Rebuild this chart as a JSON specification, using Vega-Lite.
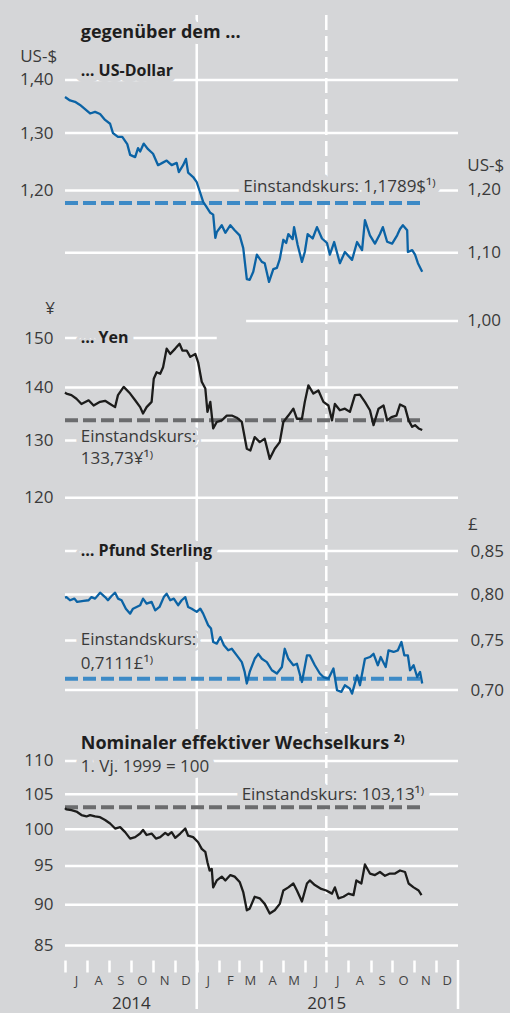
{
"$schema": "https://vega.github.io/schema/vega-lite/v6.json",
"background": "#d5d6d8",
"padding": {"left": 19, "top": 13, "right": 5, "bottom": 3},
"spacing": 0,
"bounds": "flush",
"config": {
  "locale": {"number": {"decimal": ",", "thousands": ".", "grouping": [3], "currency": ["", " €"]}},
  "view": {"stroke": null},
  "axis": {"domain": false, "ticks": false, "grid": false, "labelFont": "Open Sans", "labelFontSize": 17, "labelColor": "#3a3a3a", "labelPadding": 12},
  "text": {"font": "Open Sans"}
},
"datasets": {
  "vlines": [{"d": "2015-01-01", "k": "solid"}, {"d": "2015-07-01", "k": "dash"}],
  "yticks": [{"d": "2015-01-01"}, {"d": "2016-01-01"}],
  "grid": [
    {"p": "usd", "v": 1.4, "d": "2014-07-01", "e": "2016-01-01"},
    {"p": "usd", "v": 1.3, "d": "2014-07-01", "e": "2016-01-01"},
    {"p": "usd", "v": 1.2, "d": "2014-07-01", "e": "2016-01-01"},
    {"p": "usd", "v": 1.1, "d": "2014-07-01", "e": "2016-01-01"},
    {"p": "usd", "v": 1.0, "d": "2015-03-11", "e": "2016-01-01"},
    {"p": "yen", "v": 150, "d": "2014-07-01", "e": "2015-01-29"},
    {"p": "yen", "v": 140, "d": "2014-07-01", "e": "2016-01-01"},
    {"p": "yen", "v": 130, "d": "2014-07-01", "e": "2016-01-01"},
    {"p": "yen", "v": 120, "d": "2014-07-01", "e": "2016-01-01"},
    {"p": "gbp", "v": 0.85, "d": "2014-07-01", "e": "2016-01-01"},
    {"p": "gbp", "v": 0.80, "d": "2014-07-01", "e": "2016-01-01"},
    {"p": "gbp", "v": 0.75, "d": "2014-07-01", "e": "2016-01-01"},
    {"p": "gbp", "v": 0.70, "d": "2014-07-01", "e": "2016-01-01"},
    {"p": "eff", "v": 110, "d": "2014-07-01", "e": "2016-01-01"},
    {"p": "eff", "v": 105, "d": "2014-07-01", "e": "2016-01-01"},
    {"p": "eff", "v": 100, "d": "2014-07-01", "e": "2016-01-01"},
    {"p": "eff", "v": 95, "d": "2014-07-01", "e": "2016-01-01"},
    {"p": "eff", "v": 90, "d": "2014-07-01", "e": "2016-01-01"},
    {"p": "eff", "v": 85, "d": "2014-07-01", "e": "2016-01-01"}
  ],
  "einst": [
    {"p": "usd", "v": 1.1789, "d": "2014-07-01", "e": "2015-11-13"},
    {"p": "yen", "v": 133.73, "d": "2014-07-01", "e": "2015-11-13"},
    {"p": "gbp", "v": 0.7111, "d": "2014-07-01", "e": "2015-11-13"},
    {"p": "eff", "v": 103.13, "d": "2014-07-01", "e": "2015-11-13"}
  ],
  "labels": [
    {"p": "usd", "s": "title", "d": "2014-07-23", "v": 1.495, "t": "gegenüber dem …"},
    {"p": "usd", "s": "bold", "d": "2014-07-23", "v": 1.4177, "t": "… US-Dollar"},
    {"p": "usd", "s": "regR", "d": "2014-06-20", "v": 1.4457, "t": "US-$"},
    {"p": "usd", "s": "regR", "d": "2015-12-01", "v": 1.2057, "t": "Einstandskurs: 1,1789$¹⁾"},
    {"p": "usd", "s": "reg", "d": "2016-01-14", "v": 1.2416, "t": "US-$"},
    {"p": "usd", "s": "reg", "d": "2016-01-14", "v": 1.2, "t": "1,20"},
    {"p": "usd", "s": "reg", "d": "2016-01-14", "v": 1.1, "t": "1,10"},
    {"p": "usd", "s": "reg", "d": "2016-01-14", "v": 1.0, "t": "1,00"},
    {"p": "yen", "s": "regR", "d": "2014-06-17", "v": 156.2, "t": "¥"},
    {"p": "yen", "s": "bold", "d": "2014-07-23", "v": 150, "t": "… Yen"},
    {"p": "yen", "s": "reg", "d": "2014-07-23", "v": 130.6, "t": "Einstandskurs:"},
    {"p": "yen", "s": "reg", "d": "2014-07-23", "v": 126.7, "t": "133,73¥¹⁾"},
    {"p": "gbp", "s": "reg", "d": "2016-01-15", "v": 0.8814, "t": "£"},
    {"p": "gbp", "s": "bold", "d": "2014-07-23", "v": 0.85, "t": "… Pfund Sterling"},
    {"p": "gbp", "s": "reg", "d": "2014-07-23", "v": 0.7507, "t": "Einstandskurs:"},
    {"p": "gbp", "s": "reg", "d": "2014-07-23", "v": 0.726, "t": "0,7111£¹⁾"},
    {"p": "eff", "s": "title", "d": "2014-07-23", "v": 112.64, "t": "Nominaler effektiver Wechselkurs ²⁾"},
    {"p": "eff", "s": "reg", "d": "2014-07-23", "v": 109.08, "t": "1. Vj. 1999 = 100"},
    {"p": "eff", "s": "regR", "d": "2015-11-15", "v": 104.95, "t": "Einstandskurs: 103,13¹⁾"}
  ],
  "usd": [
    {"d":"2014-07-01","v":1.367},{"d":"2014-07-08","v":1.3605},{"d":"2014-07-15","v":1.358},{"d":"2014-07-22","v":1.352},{"d":"2014-07-29","v":1.344},{"d":"2014-08-05","v":1.336},{"d":"2014-08-12","v":1.339},{"d":"2014-08-19","v":1.335},{"d":"2014-08-26","v":1.324},{"d":"2014-09-02","v":1.317},{"d":"2014-09-06","v":1.300},{"d":"2014-09-13","v":1.293},{"d":"2014-09-19","v":1.293},{"d":"2014-09-26","v":1.280},{"d":"2014-09-30","v":1.261},{"d":"2014-10-07","v":1.257},{"d":"2014-10-11","v":1.273},{"d":"2014-10-14","v":1.267},{"d":"2014-10-19","v":1.281},{"d":"2014-10-25","v":1.271},{"d":"2014-11-01","v":1.263},{"d":"2014-11-08","v":1.243},{"d":"2014-11-14","v":1.247},{"d":"2014-11-20","v":1.251},{"d":"2014-11-27","v":1.243},{"d":"2014-12-04","v":1.247},{"d":"2014-12-07","v":1.231},{"d":"2014-12-13","v":1.243},{"d":"2014-12-17","v":1.254},{"d":"2014-12-20","v":1.230},{"d":"2014-12-27","v":1.2226},{"d":"2015-01-01","v":1.214},{"d":"2015-01-06","v":1.1956},{"d":"2015-01-10","v":1.181},{"d":"2015-01-14","v":1.174},{"d":"2015-01-20","v":1.163},{"d":"2015-01-24","v":1.160},{"d":"2015-01-27","v":1.123},{"d":"2015-01-29","v":1.132},{"d":"2015-02-05","v":1.143},{"d":"2015-02-10","v":1.131},{"d":"2015-02-17","v":1.143},{"d":"2015-02-23","v":1.135},{"d":"2015-03-02","v":1.127},{"d":"2015-03-07","v":1.107},{"d":"2015-03-12","v":1.060},{"d":"2015-03-16","v":1.059},{"d":"2015-03-21","v":1.071},{"d":"2015-03-26","v":1.097},{"d":"2015-04-02","v":1.086},{"d":"2015-04-06","v":1.084},{"d":"2015-04-12","v":1.056},{"d":"2015-04-18","v":1.075},{"d":"2015-04-23","v":1.077},{"d":"2015-04-27","v":1.090},{"d":"2015-05-02","v":1.120},{"d":"2015-05-06","v":1.115},{"d":"2015-05-09","v":1.129},{"d":"2015-05-15","v":1.121},{"d":"2015-05-17","v":1.140},{"d":"2015-05-22","v":1.112},{"d":"2015-05-28","v":1.086},{"d":"2015-06-01","v":1.101},{"d":"2015-06-05","v":1.129},{"d":"2015-06-12","v":1.122},{"d":"2015-06-18","v":1.140},{"d":"2015-06-25","v":1.122},{"d":"2015-07-02","v":1.115},{"d":"2015-07-06","v":1.097},{"d":"2015-07-12","v":1.1165},{"d":"2015-07-20","v":1.084},{"d":"2015-07-27","v":1.101},{"d":"2015-08-06","v":1.089},{"d":"2015-08-13","v":1.1165},{"d":"2015-08-20","v":1.104},{"d":"2015-08-24","v":1.151},{"d":"2015-08-31","v":1.127},{"d":"2015-09-07","v":1.114},{"d":"2015-09-14","v":1.129},{"d":"2015-09-18","v":1.140},{"d":"2015-09-24","v":1.117},{"d":"2015-10-01","v":1.114},{"d":"2015-10-08","v":1.127},{"d":"2015-10-12","v":1.137},{"d":"2015-10-16","v":1.143},{"d":"2015-10-22","v":1.135},{"d":"2015-10-23","v":1.101},{"d":"2015-10-29","v":1.104},{"d":"2015-11-02","v":1.097},{"d":"2015-11-06","v":1.084},{"d":"2015-11-12","v":1.071}
  ],
  "yen": [
    {"d":"2014-07-01","v":139.0},{"d":"2014-07-03","v":138.8},{"d":"2014-07-10","v":138.5},{"d":"2014-07-17","v":137.8},{"d":"2014-07-24","v":136.8},{"d":"2014-08-03","v":137.5},{"d":"2014-08-10","v":136.5},{"d":"2014-08-19","v":137.2},{"d":"2014-08-26","v":137.4},{"d":"2014-09-02","v":136.8},{"d":"2014-09-09","v":136.2},{"d":"2014-09-13","v":138.5},{"d":"2014-09-21","v":140.1},{"d":"2014-09-30","v":138.8},{"d":"2014-10-07","v":137.5},{"d":"2014-10-14","v":136.2},{"d":"2014-10-18","v":135.0},{"d":"2014-10-23","v":136.2},{"d":"2014-10-30","v":137.2},{"d":"2014-11-02","v":141.7},{"d":"2014-11-06","v":143.0},{"d":"2014-11-11","v":142.7},{"d":"2014-11-15","v":144.0},{"d":"2014-11-20","v":147.8},{"d":"2014-11-25","v":146.7},{"d":"2014-12-02","v":147.8},{"d":"2014-12-08","v":148.8},{"d":"2014-12-12","v":147.4},{"d":"2014-12-18","v":147.4},{"d":"2014-12-23","v":146.1},{"d":"2014-12-30","v":146.7},{"d":"2015-01-03","v":145.0},{"d":"2015-01-08","v":141.1},{"d":"2015-01-13","v":139.8},{"d":"2015-01-16","v":135.3},{"d":"2015-01-20","v":137.2},{"d":"2015-01-24","v":132.2},{"d":"2015-01-29","v":133.4},{"d":"2015-02-05","v":133.7},{"d":"2015-02-12","v":134.6},{"d":"2015-02-19","v":134.6},{"d":"2015-02-26","v":134.2},{"d":"2015-03-05","v":133.4},{"d":"2015-03-12","v":128.5},{"d":"2015-03-17","v":128.2},{"d":"2015-03-23","v":130.6},{"d":"2015-03-30","v":129.7},{"d":"2015-04-06","v":130.3},{"d":"2015-04-13","v":126.7},{"d":"2015-04-20","v":128.5},{"d":"2015-04-27","v":129.7},{"d":"2015-05-02","v":133.4},{"d":"2015-05-09","v":134.6},{"d":"2015-05-16","v":135.9},{"d":"2015-05-21","v":134.0},{"d":"2015-05-28","v":134.0},{"d":"2015-06-01","v":137.2},{"d":"2015-06-06","v":140.4},{"d":"2015-06-13","v":138.8},{"d":"2015-06-20","v":139.4},{"d":"2015-06-27","v":137.2},{"d":"2015-07-04","v":136.5},{"d":"2015-07-09","v":133.7},{"d":"2015-07-13","v":136.8},{"d":"2015-07-20","v":135.6},{"d":"2015-07-27","v":135.9},{"d":"2015-08-03","v":135.3},{"d":"2015-08-10","v":138.5},{"d":"2015-08-17","v":138.6},{"d":"2015-08-24","v":137.2},{"d":"2015-08-31","v":135.6},{"d":"2015-09-05","v":132.8},{"d":"2015-09-12","v":135.9},{"d":"2015-09-19","v":136.5},{"d":"2015-09-24","v":133.7},{"d":"2015-09-30","v":134.3},{"d":"2015-10-07","v":134.6},{"d":"2015-10-12","v":136.7},{"d":"2015-10-19","v":136.2},{"d":"2015-10-24","v":133.7},{"d":"2015-10-29","v":132.5},{"d":"2015-11-02","v":132.8},{"d":"2015-11-07","v":132.2},{"d":"2015-11-12","v":131.9}
  ],
  "gbp": [
    {"d":"2014-07-01","v":0.7965},{"d":"2014-07-03","v":0.7970},{"d":"2014-07-08","v":0.7935},{"d":"2014-07-14","v":0.7953},{"d":"2014-07-18","v":0.7916},{"d":"2014-07-27","v":0.7927},{"d":"2014-08-03","v":0.7935},{"d":"2014-08-07","v":0.7970},{"d":"2014-08-12","v":0.7953},{"d":"2014-08-19","v":0.8019},{"d":"2014-08-26","v":0.7970},{"d":"2014-08-30","v":0.7935},{"d":"2014-09-04","v":0.7982},{"d":"2014-09-09","v":0.8019},{"d":"2014-09-13","v":0.7953},{"d":"2014-09-18","v":0.7935},{"d":"2014-09-24","v":0.7842},{"d":"2014-09-30","v":0.7788},{"d":"2014-10-04","v":0.7842},{"d":"2014-10-09","v":0.7861},{"d":"2014-10-14","v":0.7880},{"d":"2014-10-18","v":0.7953},{"d":"2014-10-23","v":0.7897},{"d":"2014-10-30","v":0.7916},{"d":"2014-11-04","v":0.7824},{"d":"2014-11-10","v":0.7861},{"d":"2014-11-16","v":0.7970},{"d":"2014-11-20","v":0.8008},{"d":"2014-11-25","v":0.7935},{"d":"2014-11-30","v":0.7953},{"d":"2014-12-06","v":0.7880},{"d":"2014-12-11","v":0.7935},{"d":"2014-12-16","v":0.7970},{"d":"2014-12-20","v":0.7861},{"d":"2014-12-25","v":0.7842},{"d":"2015-01-01","v":0.7807},{"d":"2015-01-06","v":0.7842},{"d":"2015-01-10","v":0.7788},{"d":"2015-01-17","v":0.7663},{"d":"2015-01-21","v":0.7627},{"d":"2015-01-24","v":0.7485},{"d":"2015-01-29","v":0.7468},{"d":"2015-02-03","v":0.7537},{"d":"2015-02-08","v":0.7451},{"d":"2015-02-14","v":0.7399},{"d":"2015-02-19","v":0.7415},{"d":"2015-02-26","v":0.7347},{"d":"2015-03-05","v":0.7278},{"d":"2015-03-09","v":0.7179},{"d":"2015-03-12","v":0.7064},{"d":"2015-03-16","v":0.7179},{"d":"2015-03-23","v":0.7312},{"d":"2015-03-28","v":0.7363},{"d":"2015-04-02","v":0.7312},{"d":"2015-04-09","v":0.7278},{"d":"2015-04-16","v":0.7196},{"d":"2015-04-23","v":0.7163},{"d":"2015-04-30","v":0.7229},{"d":"2015-05-04","v":0.7415},{"d":"2015-05-09","v":0.7312},{"d":"2015-05-16","v":0.7246},{"d":"2015-05-21","v":0.7262},{"d":"2015-05-28","v":0.7079},{"d":"2015-06-04","v":0.7347},{"d":"2015-06-08","v":0.7347},{"d":"2015-06-15","v":0.7246},{"d":"2015-06-22","v":0.7163},{"d":"2015-06-27","v":0.7128},{"d":"2015-07-04","v":0.7112},{"d":"2015-07-11","v":0.7213},{"d":"2015-07-16","v":0.6998},{"d":"2015-07-22","v":0.6982},{"d":"2015-07-27","v":0.7047},{"d":"2015-08-03","v":0.7013},{"d":"2015-08-06","v":0.6965},{"d":"2015-08-13","v":0.7145},{"d":"2015-08-17","v":0.7047},{"d":"2015-08-24","v":0.7312},{"d":"2015-08-31","v":0.7330},{"d":"2015-09-05","v":0.7363},{"d":"2015-09-11","v":0.7246},{"d":"2015-09-15","v":0.7330},{"d":"2015-09-22","v":0.7229},{"d":"2015-09-26","v":0.7399},{"d":"2015-10-03","v":0.7382},{"d":"2015-10-09","v":0.7399},{"d":"2015-10-14","v":0.7485},{"d":"2015-10-18","v":0.7347},{"d":"2015-10-23","v":0.7347},{"d":"2015-10-26","v":0.7196},{"d":"2015-10-31","v":0.7246},{"d":"2015-11-05","v":0.7128},{"d":"2015-11-09","v":0.7179},{"d":"2015-11-12","v":0.7064}
  ],
  "eff": [
    {"d":"2014-07-01","v":103.0},{"d":"2014-07-03","v":102.8},{"d":"2014-07-10","v":102.7},{"d":"2014-07-17","v":102.5},{"d":"2014-07-24","v":102.0},{"d":"2014-07-31","v":101.8},{"d":"2014-08-05","v":102.0},{"d":"2014-08-12","v":101.8},{"d":"2014-08-19","v":101.7},{"d":"2014-08-26","v":101.3},{"d":"2014-09-02","v":100.8},{"d":"2014-09-09","v":100.1},{"d":"2014-09-16","v":100.3},{"d":"2014-09-23","v":99.6},{"d":"2014-09-30","v":98.7},{"d":"2014-10-07","v":98.9},{"d":"2014-10-14","v":99.4},{"d":"2014-10-18","v":99.9},{"d":"2014-10-23","v":99.2},{"d":"2014-10-30","v":99.4},{"d":"2014-11-05","v":98.7},{"d":"2014-11-11","v":98.9},{"d":"2014-11-18","v":99.5},{"d":"2014-11-22","v":99.2},{"d":"2014-11-27","v":99.6},{"d":"2014-12-02","v":98.8},{"d":"2014-12-09","v":99.4},{"d":"2014-12-16","v":100.1},{"d":"2014-12-20","v":99.1},{"d":"2014-12-27","v":98.9},{"d":"2015-01-03","v":98.2},{"d":"2015-01-08","v":97.3},{"d":"2015-01-13","v":96.9},{"d":"2015-01-16","v":95.5},{"d":"2015-01-19","v":94.4},{"d":"2015-01-22","v":94.6},{"d":"2015-01-24","v":92.2},{"d":"2015-01-29","v":93.1},{"d":"2015-02-05","v":93.6},{"d":"2015-02-10","v":93.1},{"d":"2015-02-17","v":93.8},{"d":"2015-02-23","v":93.6},{"d":"2015-03-02","v":92.9},{"d":"2015-03-07","v":91.6},{"d":"2015-03-12","v":89.3},{"d":"2015-03-16","v":89.5},{"d":"2015-03-23","v":91.0},{"d":"2015-03-30","v":90.8},{"d":"2015-04-06","v":90.1},{"d":"2015-04-13","v":88.9},{"d":"2015-04-20","v":89.3},{"d":"2015-04-27","v":90.1},{"d":"2015-05-02","v":91.8},{"d":"2015-05-09","v":92.2},{"d":"2015-05-16","v":92.7},{"d":"2015-05-21","v":91.8},{"d":"2015-05-28","v":90.4},{"d":"2015-06-04","v":92.7},{"d":"2015-06-08","v":93.1},{"d":"2015-06-15","v":92.5},{"d":"2015-06-24","v":92.0},{"d":"2015-07-01","v":91.8},{"d":"2015-07-09","v":91.4},{"d":"2015-07-13","v":92.2},{"d":"2015-07-18","v":90.8},{"d":"2015-07-25","v":91.0},{"d":"2015-08-01","v":91.4},{"d":"2015-08-08","v":91.2},{"d":"2015-08-12","v":93.1},{"d":"2015-08-19","v":92.7},{"d":"2015-08-24","v":95.2},{"d":"2015-08-31","v":94.0},{"d":"2015-09-07","v":93.8},{"d":"2015-09-14","v":94.2},{"d":"2015-09-21","v":93.7},{"d":"2015-09-28","v":94.0},{"d":"2015-10-05","v":94.0},{"d":"2015-10-12","v":94.4},{"d":"2015-10-19","v":94.2},{"d":"2015-10-24","v":92.7},{"d":"2015-10-31","v":92.2},{"d":"2015-11-07","v":91.8},{"d":"2015-11-11","v":91.2}
  ]
},
"vconcat": [
{
  "width": 393, "height": 315,
  "encoding": {
    "x": {"field": "d", "type": "temporal", "scale": {"type": "utc", "domain": [1404172800000, 1451606400000]}, "axis": null},
    "y": {"field": "v", "type": "quantitative", "scale": {"type": "log", "domain": [0.98742, 1.533], "nice": false}, "axis": {"orient": "left", "values": [1.2, 1.3, 1.4], "format": ".2f", "title": null}}
  },
  "layer": [
    {"data": {"name": "grid"}, "transform": [{"filter": "datum.p==='usd'"}], "mark": {"type": "rule", "color": "#ffffff", "strokeWidth": 2.5}, "encoding": {"x2": {"field": "e"}}},
    {"data": {"name": "vlines"}, "transform": [{"filter": "datum.k==='solid'"}], "mark": {"type": "rule", "color": "#ffffff", "strokeWidth": 2.5}, "encoding": {"y": {"value": 0}, "y2": {"value": "height"}}},
    {"data": {"name": "vlines"}, "transform": [{"filter": "datum.k==='dash'"}], "mark": {"type": "rule", "color": "#ffffff", "strokeWidth": 2.5, "strokeDash": [15, 6]}, "encoding": {"y": {"value": 0}, "y2": {"value": "height"}}},
    {"data": {"name": "labels"}, "transform": [{"filter": "datum.p==='usd' && datum.s==='title'"}], "mark": {"type": "text", "align": "left", "baseline": "middle", "fontSize": 18, "fontWeight": "bold", "fill": "#d5d6d8", "stroke": "#d5d6d8", "strokeWidth": 12, "strokeJoin": "round"}, "encoding": {"text": {"field": "t"}}},
    {"data": {"name": "labels"}, "transform": [{"filter": "datum.p==='usd' && datum.s==='bold'"}], "mark": {"type": "text", "align": "left", "baseline": "middle", "fontSize": 16, "fontWeight": "bold", "fill": "#d5d6d8", "stroke": "#d5d6d8", "strokeWidth": 12, "strokeJoin": "round"}, "encoding": {"text": {"field": "t"}}},
    {"data": {"name": "labels"}, "transform": [{"filter": "datum.p==='usd' && datum.s==='regR' && datum.t !== 'US-$'"}], "mark": {"type": "text", "align": "right", "baseline": "middle", "fontSize": 17, "fill": "#d5d6d8", "stroke": "#d5d6d8", "strokeWidth": 12, "strokeJoin": "round"}, "encoding": {"text": {"field": "t"}}},
    {"data": {"name": "einst"}, "transform": [{"filter": "datum.p==='usd'"}], "mark": {"type": "rule", "color": "#3d8ac6", "strokeWidth": 4, "strokeDash": [13, 5]}, "encoding": {"x2": {"field": "e"}}},
    {"data": {"name": "usd"}, "mark": {"type": "line", "color": "#0b63a5", "strokeWidth": 2.3, "strokeJoin": "round"}},
    {"data": {"name": "labels"}, "transform": [{"filter": "datum.p==='usd' && datum.s==='title'"}], "mark": {"type": "text", "align": "left", "baseline": "middle", "fontSize": 18, "fontWeight": "bold", "color": "#1e1e1e"}, "encoding": {"text": {"field": "t"}}},
    {"data": {"name": "labels"}, "transform": [{"filter": "datum.p==='usd' && datum.s==='bold'"}], "mark": {"type": "text", "align": "left", "baseline": "middle", "fontSize": 16, "fontWeight": "bold", "color": "#1e1e1e"}, "encoding": {"text": {"field": "t"}}},
    {"data": {"name": "labels"}, "transform": [{"filter": "datum.p==='usd' && datum.s==='reg'"}], "mark": {"type": "text", "align": "left", "baseline": "middle", "fontSize": 17, "color": "#3a3a3a"}, "encoding": {"text": {"field": "t"}}},
    {"data": {"name": "labels"}, "transform": [{"filter": "datum.p==='usd' && datum.s==='regR'"}], "mark": {"type": "text", "align": "right", "baseline": "middle", "fontSize": 17, "color": "#3a3a3a"}, "encoding": {"text": {"field": "t"}}}
  ]
},
{
  "width": 393, "height": 194,
  "encoding": {
    "x": {"field": "d", "type": "temporal", "scale": {"type": "utc", "domain": [1404172800000, 1451606400000]}, "axis": null},
    "y": {"field": "v", "type": "quantitative", "scale": {"type": "log", "domain": [115.68, 151.69], "nice": false}, "axis": {"orient": "left", "values": [120, 130, 140, 150], "format": "d", "title": null}}
  },
  "layer": [
    {"data": {"name": "grid"}, "transform": [{"filter": "datum.p==='yen'"}], "mark": {"type": "rule", "color": "#ffffff", "strokeWidth": 2.5}, "encoding": {"x2": {"field": "e"}}},
    {"data": {"name": "vlines"}, "transform": [{"filter": "datum.k==='solid'"}], "mark": {"type": "rule", "color": "#ffffff", "strokeWidth": 2.5}, "encoding": {"y": {"value": 0}, "y2": {"value": "height"}}},
    {"data": {"name": "vlines"}, "transform": [{"filter": "datum.k==='dash'"}], "mark": {"type": "rule", "color": "#ffffff", "strokeWidth": 2.5, "strokeDash": [15, 6]}, "encoding": {"y": {"value": 0}, "y2": {"value": "height"}}},
    {"data": {"name": "labels"}, "transform": [{"filter": "datum.p==='yen' && datum.s==='bold'"}], "mark": {"type": "text", "align": "left", "baseline": "middle", "fontSize": 16, "fontWeight": "bold", "fill": "#d5d6d8", "stroke": "#d5d6d8", "strokeWidth": 12, "strokeJoin": "round"}, "encoding": {"text": {"field": "t"}}},
    {"data": {"name": "labels"}, "transform": [{"filter": "datum.p==='yen' && datum.s==='reg'"}], "mark": {"type": "text", "align": "left", "baseline": "middle", "fontSize": 17, "fill": "#d5d6d8", "stroke": "#d5d6d8", "strokeWidth": 12, "strokeJoin": "round"}, "encoding": {"text": {"field": "t"}}},
    {"data": {"name": "einst"}, "transform": [{"filter": "datum.p==='yen'"}], "mark": {"type": "rule", "color": "#6b6c6e", "strokeWidth": 4, "strokeDash": [13, 5]}, "encoding": {"x2": {"field": "e"}}},
    {"data": {"name": "yen"}, "mark": {"type": "line", "color": "#1c1c1b", "strokeWidth": 2.3, "strokeJoin": "round"}},
    {"data": {"name": "labels"}, "transform": [{"filter": "datum.p==='yen' && datum.s==='bold'"}], "mark": {"type": "text", "align": "left", "baseline": "middle", "fontSize": 16, "fontWeight": "bold", "color": "#1e1e1e"}, "encoding": {"text": {"field": "t"}}},
    {"data": {"name": "labels"}, "transform": [{"filter": "datum.p==='yen' && datum.s==='reg'"}], "mark": {"type": "text", "align": "left", "baseline": "middle", "fontSize": 17, "color": "#3a3a3a"}, "encoding": {"text": {"field": "t"}}},
    {"data": {"name": "labels"}, "transform": [{"filter": "datum.p==='yen' && datum.s==='regR'"}], "mark": {"type": "text", "align": "right", "baseline": "middle", "fontSize": 17, "color": "#3a3a3a"}, "encoding": {"text": {"field": "t"}}}
  ]
},
{
  "width": 393, "height": 208,
  "encoding": {
    "x": {"field": "d", "type": "temporal", "scale": {"type": "utc", "domain": [1404172800000, 1451606400000]}, "axis": null},
    "y": {"field": "v", "type": "quantitative", "scale": {"type": "log", "domain": [0.66012, 0.88267], "nice": false}, "axis": {"orient": "right", "values": [0.7, 0.75, 0.8, 0.85], "format": ".2f", "title": null}}
  },
  "layer": [
    {"data": {"name": "grid"}, "transform": [{"filter": "datum.p==='gbp'"}], "mark": {"type": "rule", "color": "#ffffff", "strokeWidth": 2.5}, "encoding": {"x2": {"field": "e"}}},
    {"data": {"name": "vlines"}, "transform": [{"filter": "datum.k==='solid'"}], "mark": {"type": "rule", "color": "#ffffff", "strokeWidth": 2.5}, "encoding": {"y": {"value": 0}, "y2": {"value": "height"}}},
    {"data": {"name": "vlines"}, "transform": [{"filter": "datum.k==='dash'"}], "mark": {"type": "rule", "color": "#ffffff", "strokeWidth": 2.5, "strokeDash": [15, 6]}, "encoding": {"y": {"value": 0}, "y2": {"value": "height"}}},
    {"data": {"name": "labels"}, "transform": [{"filter": "datum.p==='gbp' && datum.s==='bold'"}], "mark": {"type": "text", "align": "left", "baseline": "middle", "fontSize": 16, "fontWeight": "bold", "fill": "#d5d6d8", "stroke": "#d5d6d8", "strokeWidth": 12, "strokeJoin": "round"}, "encoding": {"text": {"field": "t"}}},
    {"data": {"name": "labels"}, "transform": [{"filter": "datum.p==='gbp' && datum.s==='reg' && datum.t !== '£'"}], "mark": {"type": "text", "align": "left", "baseline": "middle", "fontSize": 17, "fill": "#d5d6d8", "stroke": "#d5d6d8", "strokeWidth": 12, "strokeJoin": "round"}, "encoding": {"text": {"field": "t"}}},
    {"data": {"name": "einst"}, "transform": [{"filter": "datum.p==='gbp'"}], "mark": {"type": "rule", "color": "#3d8ac6", "strokeWidth": 4, "strokeDash": [13, 5]}, "encoding": {"x2": {"field": "e"}}},
    {"data": {"name": "gbp"}, "mark": {"type": "line", "color": "#0b63a5", "strokeWidth": 2.3, "strokeJoin": "round"}},
    {"data": {"name": "labels"}, "transform": [{"filter": "datum.p==='gbp' && datum.s==='bold'"}], "mark": {"type": "text", "align": "left", "baseline": "middle", "fontSize": 16, "fontWeight": "bold", "color": "#1e1e1e"}, "encoding": {"text": {"field": "t"}}},
    {"data": {"name": "labels"}, "transform": [{"filter": "datum.p==='gbp' && datum.s==='reg'"}], "mark": {"type": "text", "align": "left", "baseline": "middle", "fontSize": 17, "color": "#3a3a3a"}, "encoding": {"text": {"field": "t"}}}
  ]
},
{
  "width": 393, "height": 228,
  "encoding": {
    "x": {"field": "d", "type": "temporal", "scale": {"type": "utc", "domain": [1404172800000, 1451606400000]},
      "axis": {"orient": "bottom", "title": null, "values": [1404172800000, 1406851200000, 1409529600000, 1412121600000, 1414800000000, 1417392000000, 1420070400000, 1422748800000, 1425168000000, 1427846400000, 1430438400000, 1433116800000, 1435708800000, 1438387200000, 1441065600000, 1443657600000, 1446336000000, 1448928000000],
        "ticks": true, "tickSize": 12, "tickColor": "#ffffff", "tickWidth": 2.5, "labelExpr": "slice(utcFormat(datum.value, '%b'), 0, 1)", "labelOffset": 11, "labelPadding": 2, "labelFontSize": 13, "labelColor": "#444444", "labelFlush": false, "labelOverlap": false, "labelBound": false}},
    "y": {"field": "v", "type": "quantitative", "scale": {"type": "log", "domain": [83.307, 114.547], "nice": false}, "axis": {"orient": "left", "values": [85, 90, 95, 100, 105, 110], "format": "d", "title": null}}
  },
  "layer": [
    {"data": {"name": "grid"}, "transform": [{"filter": "datum.p==='eff'"}], "mark": {"type": "rule", "color": "#ffffff", "strokeWidth": 2.5}, "encoding": {"x2": {"field": "e"}}},
    {"data": {"name": "vlines"}, "transform": [{"filter": "datum.k==='solid'"}], "mark": {"type": "rule", "color": "#ffffff", "strokeWidth": 2.5}, "encoding": {"y": {"value": 0}, "y2": {"value": "height"}}},
    {"data": {"name": "vlines"}, "transform": [{"filter": "datum.k==='dash'"}], "mark": {"type": "rule", "color": "#ffffff", "strokeWidth": 2.5, "strokeDash": [15, 6]}, "encoding": {"y": {"value": 0}, "y2": {"value": "height"}}},
    {"data": {"name": "labels"}, "transform": [{"filter": "datum.p==='eff' && datum.s==='title'"}], "mark": {"type": "text", "align": "left", "baseline": "middle", "fontSize": 18, "fontWeight": "bold", "fill": "#d5d6d8", "stroke": "#d5d6d8", "strokeWidth": 12, "strokeJoin": "round"}, "encoding": {"text": {"field": "t"}}},
    {"data": {"name": "labels"}, "transform": [{"filter": "datum.p==='eff' && datum.s==='reg'"}], "mark": {"type": "text", "align": "left", "baseline": "middle", "fontSize": 17, "fill": "#d5d6d8", "stroke": "#d5d6d8", "strokeWidth": 12, "strokeJoin": "round"}, "encoding": {"text": {"field": "t"}}},
    {"data": {"name": "labels"}, "transform": [{"filter": "datum.p==='eff' && datum.s==='regR'"}], "mark": {"type": "text", "align": "right", "baseline": "middle", "fontSize": 17, "fill": "#d5d6d8", "stroke": "#d5d6d8", "strokeWidth": 12, "strokeJoin": "round"}, "encoding": {"text": {"field": "t"}}},
    {"data": {"name": "einst"}, "transform": [{"filter": "datum.p==='eff'"}], "mark": {"type": "rule", "color": "#6b6c6e", "strokeWidth": 4, "strokeDash": [13, 5]}, "encoding": {"x2": {"field": "e"}}},
    {"data": {"name": "eff"}, "mark": {"type": "line", "color": "#1c1c1b", "strokeWidth": 2.3, "strokeJoin": "round"}},
    {"data": {"name": "labels"}, "transform": [{"filter": "datum.p==='eff' && datum.s==='title'"}], "mark": {"type": "text", "align": "left", "baseline": "middle", "fontSize": 18, "fontWeight": "bold", "color": "#1e1e1e"}, "encoding": {"text": {"field": "t"}}},
    {"data": {"name": "labels"}, "transform": [{"filter": "datum.p==='eff' && datum.s==='reg'"}], "mark": {"type": "text", "align": "left", "baseline": "middle", "fontSize": 17, "color": "#3a3a3a"}, "encoding": {"text": {"field": "t"}}},
    {"data": {"name": "labels"}, "transform": [{"filter": "datum.p==='eff' && datum.s==='regR'"}], "mark": {"type": "text", "align": "right", "baseline": "middle", "fontSize": 17, "color": "#3a3a3a"}, "encoding": {"text": {"field": "t"}}}
  ]
},
{
  "width": 393, "height": 49,
  "data": {"name": "yticks"},
  "mark": {"type": "rule", "color": "#ffffff", "strokeWidth": 2.5},
  "encoding": {
    "x": {"field": "d", "type": "temporal", "scale": {"type": "utc", "domain": [1404172800000, 1451606400000]},
      "axis": {"orient": "bottom", "title": null, "values": [1412121600000, 1435708800000], "labelExpr": "utcFormat(datum.value, '%Y')", "labelPadding": -14, "labelFontSize": 17, "labelColor": "#333333", "labelFlush": false, "labelOverlap": false, "labelBound": false}},
    "y": {"value": 0},
    "y2": {"value": "height"}
  }
}
]
}
